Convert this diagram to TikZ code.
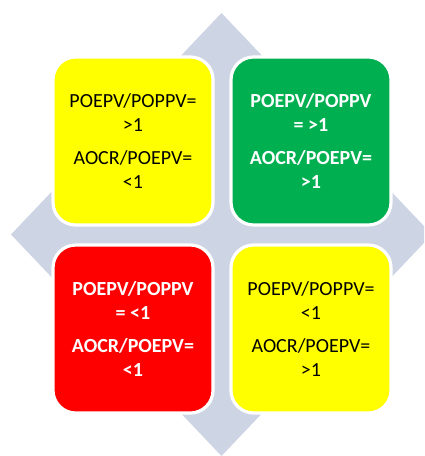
\documentclass[tikz,border=0pt]{standalone}
\usepackage{fontspec}
\setmainfont{Carlito}
\begin{document}
\begin{tikzpicture}[x=0.75pt,y=-0.75pt,
  quad/.style={rectangle, rounded corners=17pt, draw=white, line width=2.4pt,
    minimum width=160*0.75pt, minimum height=168*0.75pt, inner sep=0pt,
    align=center, font=\fontsize{15pt}{18pt}\selectfont},
  lightquad/.style={quad, fill=yellow, text=black},
  darkquad/.style={quad, text=white, font=\fontsize{15pt}{18pt}\selectfont\bfseries}]
  \definecolor{diamondgrey}{HTML}{CDD4E4}
  \definecolor{quadgreen}{HTML}{00B050}
  \definecolor{quadred}{HTML}{FF0000}
  \definecolor{quadyellow}{HTML}{FFFF00}
  \useasboundingbox (0,0) rectangle (424,456);
  \clip (0,0) rectangle (424,456);
  % background diamond behind the four quadrants
  \fill[diamondgrey] (221.5,13) -- (432,234.5) -- (221.5,456) -- (11,234.5) -- cycle;
  % quadrants
  \node[lightquad, fill=quadyellow] (tl) at (133,141)
    {POEPV/POPPV=\\ >1\\[6.75pt] AOCR/POEPV=\\ <1};
  \node[darkquad, fill=quadgreen] (tr) at (311,141)
    {POEPV/POPPV\\ = >1\\[6.75pt] AOCR/POEPV=\\ >1};
  \node[darkquad, fill=quadred] (bl) at (133,329)
    {POEPV/POPPV\\ = <1\\[6.75pt] AOCR/POEPV=\\ <1};
  \node[lightquad, fill=quadyellow] (br) at (311,329)
    {POEPV/POPPV=\\ <1\\[6.75pt] AOCR/POEPV=\\ >1};
\end{tikzpicture}
\end{document}
